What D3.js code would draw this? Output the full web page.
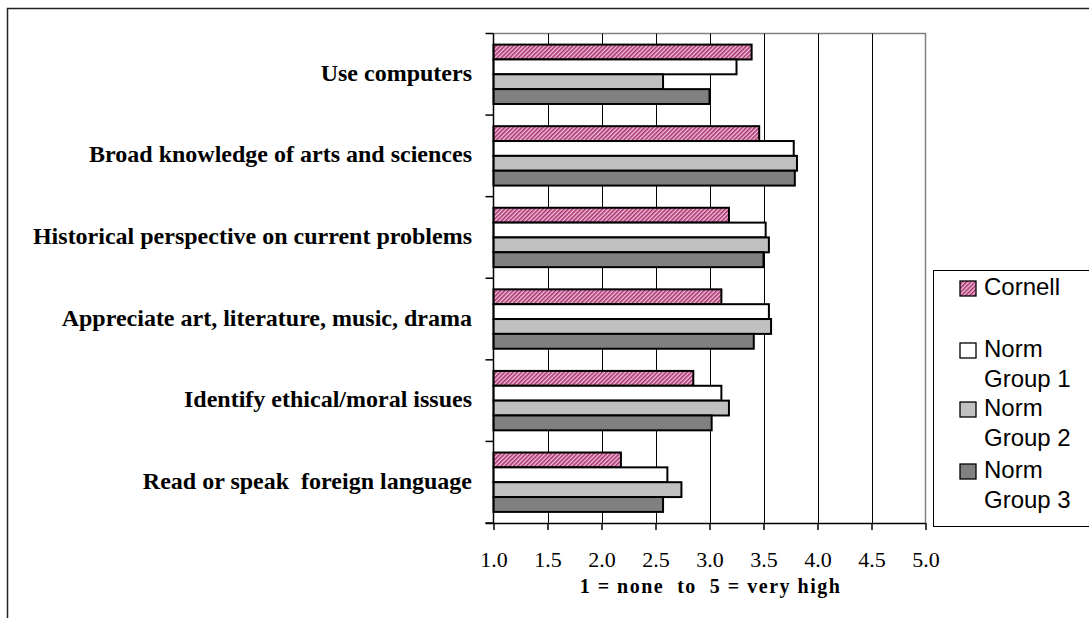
<!DOCTYPE html>
<html>
<head>
<meta charset="utf-8">
<script src="https://cdn.jsdelivr.net/npm/d3@7"></script>
<style>
  html, body { margin: 0; padding: 0; background: #fff; }
  svg { display: block; }
  text { white-space: pre; }
</style>
</head>
<body>
<svg id="chart" width="1089" height="618"></svg>
<script>
const categories = [
  "Use computers",
  "Broad knowledge of arts and sciences",
  "Historical perspective on current problems",
  "Appreciate art, literature, music, drama",
  "Identify ethical/moral issues",
  "Read or speak  foreign language"
];
const seriesNames = ["Cornell", "Norm Group 1", "Norm Group 2", "Norm Group 3"];
const legendLines = [["Cornell"], ["Norm", "Group 1"], ["Norm", "Group 2"], ["Norm", "Group 3"]];
const cornell = [3.39, 3.46, 3.18, 3.11, 2.85, 2.18];
const norm1   = [3.25, 3.78, 3.52, 3.55, 3.11, 2.61];
const norm2   = [2.57, 3.81, 3.55, 3.57, 3.18, 2.74];
const norm3   = [3.00, 3.79, 3.50, 3.41, 3.02, 2.57];
const xTicks = [1.0, 1.5, 2.0, 2.5, 3.0, 3.5, 4.0, 4.5, 5.0];
const xTitle = "1 = none  to  5 = very high";

const seriesValues = [cornell, norm1, norm2, norm3];
const fills = ["url(#hatch)", "#ffffff", "#c0c0c0", "#808080"];

const svg = d3.select("#chart");
const defs = svg.append("defs");
const pat = defs.append("pattern")
  .attr("id", "hatch").attr("patternUnits", "userSpaceOnUse")
  .attr("width", 3).attr("height", 3)
  .attr("patternTransform", "rotate(45)");
pat.append("rect").attr("width", 3).attr("height", 3).attr("fill", "#f2c2da");
pat.append("rect").attr("width", 1.6).attr("height", 3).attr("fill", "#a8336f");

const pL = 493.5, pR = 925.5, pT = 33.5, pB = 523;

// outer frame
svg.append("path")
  .attr("d", `M7.5,640 L7.5,8.5 L1100,8.5`)
  .attr("fill", "none").attr("stroke", "#222").attr("stroke-width", 1.5);

const x = d3.scaleLinear().domain([1, 5]).range([pL, pR]);
const y = d3.scaleBand().domain(categories).range([pT, pB])
  .paddingInner(0.272).paddingOuter(0.136);
const ySub = d3.scaleBand().domain(seriesNames).range([0, y.bandwidth()]);

// plot border (gray)
svg.append("path")
  .attr("d", `M${pL},${pT} L${pR},${pT} L${pR},${pB}`)
  .attr("fill", "none").attr("stroke", "#808080").attr("stroke-width", 1.5);

// gridlines
svg.append("g").selectAll("line")
  .data(xTicks.filter(t => t > 1 && t < 5))
  .join("line")
  .attr("x1", d => Math.round(x(d)) + 0.5).attr("x2", d => Math.round(x(d)) + 0.5)
  .attr("y1", pT).attr("y2", pB)
  .attr("stroke", "#000").attr("stroke-width", 1);

// bars
const groups = svg.append("g").selectAll("g")
  .data(categories)
  .join("g")
  .attr("transform", d => `translate(0,${y(d)})`);
groups.selectAll("rect")
  .data((d, i) => seriesNames.map((s, j) => ({ s, j, v: seriesValues[j][i] })))
  .join("rect")
  .attr("x", x(1))
  .attr("y", d => ySub(d.s))
  .attr("width", d => x(d.v) - x(1))
  .attr("height", ySub.bandwidth())
  .attr("fill", d => fills[d.j])
  .attr("stroke", "#000").attr("stroke-width", 2);

// left axis with ticks at category boundaries
const boundaries = d3.range(categories.length + 1).map(i => pT + i * ((pB - pT) / categories.length));
svg.append("line").attr("x1", pL).attr("x2", pL).attr("y1", pT).attr("y2", pB)
  .attr("stroke", "#000").attr("stroke-width", 1.5);
svg.append("g").selectAll("line").data(boundaries).join("line")
  .attr("x1", pL - 8).attr("x2", pL).attr("y1", d => d).attr("y2", d => d)
  .attr("stroke", "#000").attr("stroke-width", 1.5);

// category labels
svg.append("g").selectAll("text").data(categories).join("text")
  .attr("x", 472).attr("y", d => y(d) + y.bandwidth() / 2)
  .attr("dy", "0.27em")
  .attr("text-anchor", "end")
  .attr("font-family", "'Liberation Serif', 'Times New Roman', serif")
  .attr("font-weight", "bold").attr("font-size", 24)
  .attr("fill", "#000")
  .text(d => d);

// bottom axis
const xAxis = d3.axisBottom(x).tickValues(xTicks).tickFormat(d3.format(".1f"))
  .tickSize(7).tickSizeOuter(0);
const gx = svg.append("g").attr("transform", `translate(0,${pB})`).call(xAxis);
gx.select(".domain").attr("stroke", "#000").attr("stroke-width", 1.5)
  .attr("d", `M${pL - 8},0.5H${pR}`);
gx.selectAll(".tick line").attr("stroke", "#000").attr("stroke-width", 1.5);
gx.selectAll(".tick text")
  .attr("font-family", "'Liberation Serif', 'Times New Roman', serif")
  .attr("font-size", 22).attr("fill", "#000").attr("y", 44).attr("dy", 0);

svg.append("text")
  .attr("x", x(3) + 1).attr("y", 593)
  .attr("text-anchor", "middle")
  .attr("font-family", "'Liberation Serif', 'Times New Roman', serif")
  .attr("font-weight", "bold").attr("font-size", 20)
  .attr("letter-spacing", 1.5)
  .text(xTitle);

// legend
const lg = svg.append("g");
lg.append("rect").attr("x", 933.5).attr("y", 270.5).attr("width", 200).attr("height", 256)
  .attr("fill", "#fff").attr("stroke", "#000").attr("stroke-width", 1);
const itemY = [295, 357, 416, 478];
legendLines.forEach((lines, i) => {
  lg.append("rect").attr("x", 960).attr("y", itemY[i] - 14).attr("width", 16).attr("height", 15)
    .attr("fill", fills[i]).attr("stroke", "#000").attr("stroke-width", 1.3);
  lines.forEach((t, k) => {
    lg.append("text").attr("x", 984).attr("y", itemY[i] + k * 30)
      .attr("font-family", "'Liberation Sans', Arial, sans-serif")
      .attr("font-size", 24).attr("fill", "#000")
      .text(t);
  });
});
</script>
</body>
</html>
